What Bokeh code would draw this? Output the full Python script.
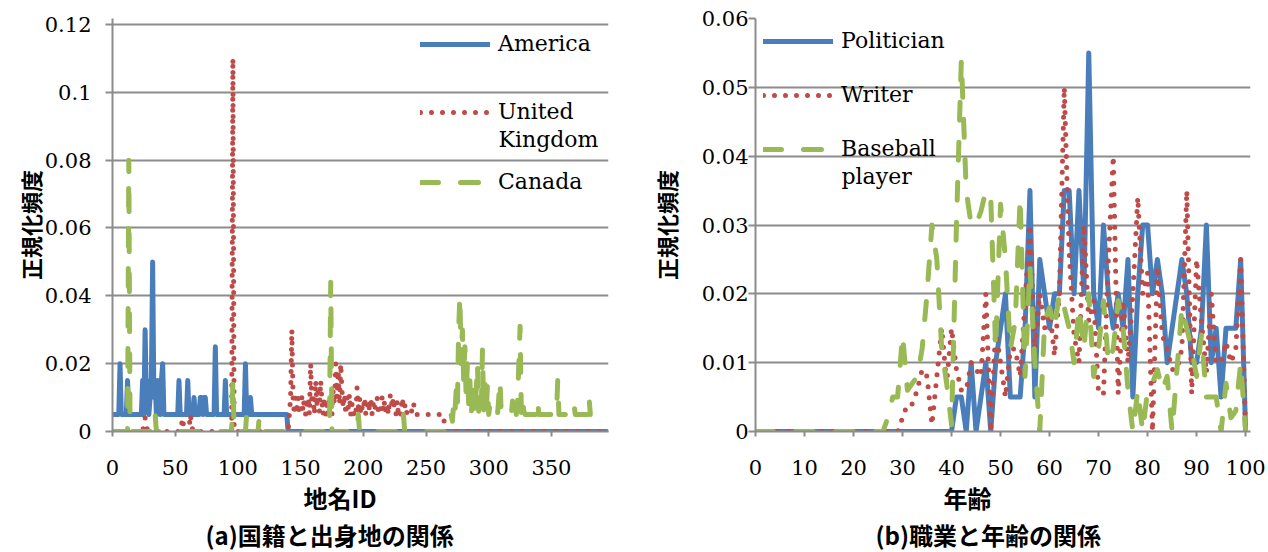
from bokeh.plotting import figure
from bokeh.models import (Range1d, FixedTicker, CustomJSTickFormatter, Legend,
                          LegendItem, Label, Title)
from bokeh.layouts import row
from bokeh.embed import file_html
from bokeh.resources import INLINE

# ---------------- data: panel (a) 国籍と出身地の関係 ----------------
america = [
    0.005, 0.005, 0.005, 0.005, 0.005, 0.005, 0.02, 0.005, 0.005, 0.005,
    0.005, 0.005, 0.015, 0.005, 0.005, 0.005, 0.005, 0.005, 0.005, 0.005,
    0.005, 0.005, 0.005, 0.005, 0.015, 0.005, 0.03, 0.01, 0.015, 0.005,
    0.01, 0.015, 0.05, 0.01, 0.015, 0.005, 0.015, 0.01, 0.005, 0.015,
    0.02, 0.005, 0.005, 0.005, 0.005, 0.005, 0.005, 0.005, 0.005, 0.005,
    0.005, 0.005, 0.005, 0.015, 0.005, 0.005, 0.005, 0.005, 0.005, 0.005,
    0.015, 0.005, 0.005, 0.005, 0.005, 0.01, 0.005, 0.005, 0.005, 0.005,
    0.01, 0.01, 0.005, 0.01, 0.01, 0.005, 0.005, 0.005, 0.005, 0.005,
    0.005, 0.005, 0.025, 0.005, 0.005, 0.005, 0.005, 0.005, 0.005, 0.005,
    0.015, 0.005, 0.005, 0.005, 0.005, 0.005, 0.005, 0.005, 0.005, 0.005,
    0.005, 0.005, 0.005, 0.005, 0.005, 0.005, 0.02, 0.005, 0.005, 0.005,
    0.01, 0.005, 0.005, 0.005, 0.005, 0.005, 0.005, 0.005, 0.005, 0.005,
    0.005, 0.005, 0.005, 0.005, 0.005, 0.005, 0.005, 0.005, 0.005, 0.005,
    0.005, 0.005, 0.005, 0.005, 0.005, 0.005, 0.005, 0.005, 0.005, 0.005,
    0, 0, 0, 0, 0, 0, 0, 0, 0, 0, 0, 0, 0, 0, 0,
    0, 0, 0, 0, 0, 0, 0, 0, 0, 0, 0, 0, 0, 0, 0,
    0, 0, 0, 0, 0, 0, 0, 0, 0, 0, 0, 0, 0, 0, 0,
    0, 0, 0, 0, 0, 0, 0, 0, 0, 0, 0, 0, 0, 0, 0,
    0, 0, 0, 0, 0, 0, 0, 0, 0, 0, 0, 0, 0, 0, 0,
    0, 0, 0, 0, 0, 0, 0, 0, 0, 0, 0, 0, 0, 0, 0,
    0, 0, 0, 0, 0, 0, 0, 0, 0, 0, 0, 0, 0, 0, 0,
    0, 0, 0, 0, 0, 0, 0, 0, 0, 0, 0, 0, 0, 0, 0,
    0, 0, 0, 0, 0, 0, 0, 0, 0, 0, 0, 0, 0, 0, 0,
    0, 0, 0, 0, 0, 0, 0, 0, 0, 0, 0, 0, 0, 0, 0,
    0, 0, 0, 0, 0, 0, 0, 0, 0, 0, 0, 0, 0, 0, 0,
    0, 0, 0, 0, 0, 0, 0, 0, 0, 0, 0, 0, 0, 0, 0,
    0, 0, 0, 0, 0, 0, 0, 0, 0, 0, 0, 0, 0, 0, 0,
    0, 0, 0, 0, 0, 0, 0, 0, 0, 0, 0, 0, 0, 0, 0,
    0, 0, 0, 0, 0, 0, 0, 0, 0, 0, 0, 0, 0, 0, 0,
    0, 0, 0, 0, 0, 0, 0, 0, 0, 0, 0, 0, 0, 0, 0,
    0, 0, 0, 0, 0, 0, 0, 0, 0, 0, 0, 0, 0, 0, 0,
]

united_kingdom = [
    0, 0, 0, 0, 0, 0, 0, 0, 0, 0,
    0, 0, 0, 0, 0, 0, 0, 0, 0, 0,
    0, 0, 0, 0, 0, 0.002, 0.004, 0.002, 0, 0,
    0, 0, 0, 0, 0, 0, 0, 0, 0, 0,
    0, 0, 0, 0, 0, 0, 0, 0, 0, 0,
    0, 0, 0, 0, 0, 0.002, 0.004, 0, 0, 0,
    0, 0, 0.005, 0.003, 0, 0, 0, 0, 0, 0,
    0, 0, 0, 0, 0, 0, 0, 0, 0, 0,
    0, 0, 0, 0, 0, 0, 0, 0, 0, 0,
    0, 0, 0, 0, 0, 0, 0.11, 0, 0, 0,
    0, 0, 0, 0, 0, 0, 0, 0, 0, 0,
    0, 0, 0, 0, 0, 0, 0, 0, 0, 0,
    0, 0, 0, 0, 0, 0, 0, 0, 0, 0,
    0, 0, 0, 0, 0, 0, 0, 0, 0, 0,
    0, 0.005, 0.01, 0.03, 0.01, 0.005, 0.01, 0.007, 0.01, 0.005,
    0.008, 0.01, 0.006, 0.01, 0.005, 0.008, 0.01, 0.005, 0.02, 0.008,
    0.01, 0.005, 0.015, 0.008, 0.012, 0.006, 0.015, 0.009, 0.005, 0.01,
    0.005, 0.008, 0.005, 0.01, 0.006, 0.005, 0.012, 0.008, 0.02, 0.01,
    0.018, 0.008, 0.02, 0.012, 0.007, 0.011, 0.005, 0.01, 0.007, 0.011,
    0.005, 0.008, 0.005, 0.006, 0.005, 0.013, 0.007, 0.01, 0.005, 0.007,
    0.006, 0.01, 0.005, 0.007, 0.009, 0.006, 0.01, 0.005, 0.008, 0.006,
    0.009, 0.01, 0.006, 0.005, 0.008, 0.01, 0.006, 0.009, 0.005, 0.008,
    0.005, 0.01, 0.011, 0.007, 0.01, 0.006, 0.005, 0.009, 0.005, 0.006,
    0.005, 0.01, 0.007, 0.008, 0.005, 0.006, 0.005, 0.005, 0.005, 0.007,
    0.0085, 0.006, 0.005, 0.005, 0.005, 0.005, 0.005, 0.005, 0.005, 0.005,
    0.005, 0.005, 0.005, 0.005, 0.005, 0.005, 0.005, 0.005, 0.005, 0.005,
    0.005, 0.005, 0.005, 0.005, 0.005, 0, 0, 0, 0, 0,
    0, 0, 0, 0, 0, 0, 0, 0, 0, 0, 0, 0, 0, 0, 0, 0, 0, 0, 0, 0, 0, 0, 0, 0, 0,
    0, 0, 0, 0, 0, 0, 0, 0, 0, 0, 0, 0, 0, 0, 0, 0, 0, 0, 0, 0, 0, 0, 0, 0, 0,
    0, 0, 0, 0, 0, 0, 0, 0, 0, 0, 0, 0, 0, 0, 0, 0, 0, 0, 0, 0, 0, 0, 0, 0, 0,
    0, 0, 0, 0, 0, 0, 0, 0, 0, 0, 0, 0, 0, 0, 0, 0, 0, 0, 0, 0, 0, 0, 0, 0, 0,
    0, 0, 0, 0, 0, 0, 0, 0, 0, 0, 0, 0, 0, 0, 0, 0, 0, 0, 0, 0, 0, 0, 0, 0, 0,
]

canada = [
    0, 0, 0, 0, 0, 0, 0, 0, 0, 0,
    0, 0, 0, 0.08, 0, 0, 0, 0, 0, 0,
    0, 0, 0, 0, 0, 0, 0, 0, 0, 0,
    0, 0, 0, 0, 0.005, 0, 0, 0, 0, 0,
    0, 0, 0, 0, 0, 0, 0, 0, 0, 0,
    0, 0, 0, 0, 0, 0, 0, 0, 0, 0,
    0, 0, 0, 0, 0, 0, 0, 0, 0, 0,
    0, 0, 0, 0, 0, 0, 0, 0, 0, 0,
    0, 0, 0, 0, 0, 0, 0, 0, 0, 0,
    0, 0, 0, 0, 0, 0, 0.015, 0, 0, 0,
    0, 0, 0, 0, 0, 0, 0, 0.005, 0, 0,
    0, 0, 0, 0, 0, 0, 0, 0.004, 0, 0,
    0, 0, 0, 0, 0, 0, 0, 0, 0, 0,
    0, 0, 0, 0, 0, 0, 0, 0, 0, 0,
    0, 0, 0, 0, 0, 0, 0, 0, 0, 0,
    0, 0, 0, 0, 0, 0, 0, 0, 0, 0,
    0, 0, 0, 0, 0, 0, 0, 0, 0, 0,
    0, 0, 0, 0, 0.044, 0, 0, 0, 0, 0,
    0, 0, 0, 0, 0, 0, 0, 0, 0, 0,
    0, 0, 0, 0, 0, 0, 0.005, 0, 0, 0,
    0, 0, 0, 0, 0, 0, 0, 0, 0, 0,
    0, 0, 0, 0, 0, 0, 0, 0, 0, 0,
    0, 0, 0, 0, 0, 0, 0, 0, 0, 0,
    0, 0, 0.005, 0, 0, 0, 0, 0, 0, 0,
    0, 0, 0, 0, 0, 0, 0, 0, 0, 0,
    0, 0, 0, 0, 0, 0, 0, 0, 0, 0,
    0, 0, 0, 0, 0, 0, 0, 0, 0, 0.002,
    0.005, 0.003, 0.008, 0.005, 0.012, 0.007, 0.03, 0.04, 0.02, 0.03,
    0.015, 0.025, 0.01, 0.02, 0.008, 0.015, 0.005, 0.01, 0.015, 0.005,
    0.012, 0.02, 0.006, 0.01, 0.005, 0.024, 0.006, 0.016, 0.005, 0.014,
    0.005, 0.008, 0.005, 0.005, 0.005, 0.005, 0.005, 0.005, 0.01, 0.015,
    0.005, 0.005, 0.005, 0.005, 0.005, 0.005, 0.005, 0.005, 0.005, 0.009,
    0.005, 0.008, 0.005, 0.009, 0.02, 0.031, 0.005, 0.009, 0.006, 0.005,
    0.005, 0.005, 0.005, 0.005, 0.005, 0.005, 0.005, 0.005, 0.005, 0.009,
    0.005, 0.005, 0.005, 0.005, 0.005, 0.005, 0.005, 0.005, 0.005, 0.005,
    0.005, 0.005, 0.005, 0.005, 0.005, 0.015, 0.005, 0.005, 0.005, 0.005,
    0.005, 0.005, 0.005, 0.005, 0.005, 0.005, 0.005, 0.005, 0.008, 0.005,
    0.005, 0.005, 0.005, 0.005, 0.005, 0.005, 0.005, 0.005, 0.005, 0.005,
    0.01, 0.005,
]

# ---------------- data: panel (b) 職業と年齢の関係 ----------------
politician = [
    0, 0, 0, 0, 0, 0, 0, 0, 0, 0,
    0, 0, 0, 0, 0, 0, 0, 0, 0, 0,
    0, 0, 0, 0, 0, 0, 0, 0, 0, 0,
    0, 0, 0, 0, 0, 0, 0, 0, 0, 0,
    0, 0.005, 0.005, 0, 0.01, 0, 0.005, 0.01, 0, 0.01,
    0.015, 0.02, 0.005, 0.005, 0.005, 0.015, 0.035, 0.005, 0.025, 0.02,
    0.015, 0.02, 0.02, 0.035, 0.035, 0.02, 0.035, 0.02, 0.055, 0.02,
    0.015, 0.03, 0.02, 0.015, 0.02, 0.015, 0.025, 0.005, 0.02, 0.03,
    0.03, 0.02, 0.025, 0.02, 0.01, 0.015, 0.02, 0.025, 0.02, 0.01,
    0.01, 0.015, 0.03, 0.01, 0.015, 0.005, 0.015, 0.015, 0.015, 0.025,
    0,
]

writer = [
    0, 0, 0, 0, 0, 0, 0, 0, 0, 0,
    0, 0, 0, 0, 0, 0, 0, 0, 0, 0,
    0, 0, 0, 0, 0, 0, 0, 0, 0, 0,
    0.002, 0.004, 0.004, 0.006, 0.009, 0.008, 0.001, 0.008, 0.015, 0.007,
    0.015, 0.009, 0.006, 0.006, 0.01, 0.009, 0.008, 0.02, 0, 0.015,
    0.01, 0.005, 0.012, 0.012, 0.008, 0.019, 0.03, 0.012, 0.02, 0.015,
    0.018, 0.011, 0.02, 0.05, 0.026, 0.014, 0.01, 0.03, 0.016, 0.019,
    0.0055, 0.0055, 0.025, 0.04, 0.0055, 0.019, 0.01, 0.02, 0.034, 0.02,
    0.023, 0, 0.024, 0.014, 0.012, 0.009, 0.009, 0.012, 0.035, 0.0055,
    0.025, 0.016, 0.0085, 0.02, 0.01, 0.01, 0.013, 0.01, 0.012, 0.025,
    0,
]

baseball_player = [
    0, 0, 0, 0, 0, 0, 0, 0, 0, 0,
    0, 0, 0, 0, 0, 0, 0, 0, 0, 0,
    0, 0, 0, 0, 0, 0, 0, 0.002, 0.005, 0.005,
    0.014, 0.006, 0.007, 0.008, 0.012, 0.02, 0.03, 0.025, 0.012, 0.007,
    0.001, 0.03, 0.054, 0.035, 0.03, 0.03, 0.032, 0.035, 0.034, 0.012,
    0.033, 0.025, 0.012, 0.016, 0.034, 0.008, 0.024, 0.01, 0, 0.016,
    0.018, 0.015, 0.02, 0.018, 0.015, 0.01, 0.018, 0.012, 0.02, 0.008,
    0.012, 0.019, 0.01, 0.012, 0.019, 0.015, 0.006, 0, 0.006, 0,
    0.006, 0.007, 0.009, 0.006, 0.008, 0, 0.009, 0.018, 0.015, 0.012,
    0.008, 0.014, 0.005, 0.005, 0.005, 0, 0.007, 0.002, 0.003, 0.01,
    0,
]

x_ticks_a = [0, 50, 100, 150, 200, 250, 300, 350]
y_ticks_a = [0, 0.02, 0.04, 0.06, 0.08, 0.1, 0.12]
x_ticks_b = [0, 10, 20, 30, 40, 50, 60, 70, 80, 90, 100]
y_ticks_b = [0, 0.01, 0.02, 0.03, 0.04, 0.05, 0.06]

# ---------------- style ----------------
BLUE = "#4A7EBB"
RED = "#BE4B48"
GREEN = "#98B954"
GRID = "#8C8C8C"
SERIF = "DejaVu Serif"
CJK = "Noto Sans CJK JP"
FIG_H = 552


def make_fig(width, x_end, y_end, xt, yt, border_left, border_right,
             ylab_standoff, ytitle_standoff):
    p = figure(width=width, height=FIG_H, output_backend="svg",
               toolbar_location=None,
               x_range=Range1d(0, x_end), y_range=Range1d(0, y_end),
               min_border_left=border_left, min_border_right=border_right,
               min_border_top=18, min_border_bottom=FIG_H - 432)
    p.outline_line_color = None
    p.background_fill_color = "white"
    p.xgrid.visible = False
    p.ygrid.ticker = FixedTicker(ticks=yt)
    p.ygrid.grid_line_color = GRID
    p.ygrid.grid_line_width = 2
    p.xaxis.ticker = FixedTicker(ticks=xt)
    p.yaxis.ticker = FixedTicker(ticks=yt)
    p.yaxis.formatter = CustomJSTickFormatter(
        code="return (Math.round(tick*1000)/1000).toString();")
    for ax in (p.xaxis, p.yaxis):
        ax.axis_line_color = GRID
        ax.axis_line_width = 2
        ax.major_tick_line_color = GRID
        ax.major_tick_line_width = 2
        ax.major_tick_in = 0
        ax.minor_tick_line_color = None
        ax.major_label_text_font = SERIF
        ax.major_label_text_font_size = "21px"
        ax.major_label_text_color = "black"
    p.xaxis.major_tick_out = 5
    p.yaxis.major_tick_out = 7
    p.xaxis.major_label_standoff = 23
    p.yaxis.major_label_standoff = ylab_standoff
    p.yaxis.axis_label = "正規化頻度"
    p.yaxis.axis_label_text_font = CJK
    p.yaxis.axis_label_text_font_size = "22px"
    p.yaxis.axis_label_text_font_style = "bold"
    p.yaxis.axis_label_text_color = "black"
    p.yaxis.axis_label_standoff = ytitle_standoff
    return p


def add_titles(p, xlabel, xoff, caption, coff):
    t1 = Title(text=xlabel, align="left", offset=xoff, text_font=CJK,
               text_font_size="24px", text_font_style="bold",
               text_color="black", standoff=0)
    t2 = Title(text=caption, align="left", offset=coff, text_font=CJK,
               text_font_size="24px", text_font_style="bold",
               text_color="black", standoff=1)
    p.add_layout(t1, "below")
    p.add_layout(t2, "below")


def text_label(p, text, x, y):
    p.add_layout(Label(x=x, y=y, x_units="screen", y_units="screen", text=text,
                       text_font=SERIF, text_font_size="22px",
                       text_align="left", text_baseline="middle",
                       text_color="black"))


def add_entry(p, renderer, text, x, y):
    lg = Legend(items=[LegendItem(label=text, renderers=[renderer])],
                location=(x, y), padding=0, margin=0, spacing=0,
                border_line_color=None, background_fill_alpha=0,
                glyph_width=70, glyph_height=20, label_standoff=8,
                label_height=20, label_text_font=SERIF,
                label_text_font_size="22px", label_text_color="black")
    p.add_layout(lg)


def add_line(p, ys, color, dash, lw):
    xs = list(range(len(ys)))
    return p.line(xs, ys, line_color=color, line_width=lw, line_dash=dash,
                  line_cap="round", line_join="round")


# ---------------- panel (a) ----------------
pa = make_fig(638, 395.5, 0.12 + 6 / 3400, x_ticks_a, y_ticks_a, 112, 30, 14, -4)
ra = add_line(pa, america, BLUE, "solid", 5)
rb = add_line(pa, united_kingdom, RED, "0 11", 5)
rc = add_line(pa, canada, GREEN, "18 22", 5)
add_entry(pa, ra, "America", 308, 375)
add_entry(pa, rb, "United", 308, 307)
text_label(pa, "Kingdom", 386, 292)
add_entry(pa, rc, "Canada", 308, 237)
add_titles(pa, "地名ID", 191, "(a)国籍と出身地の関係", 93)

# ---------------- panel (b) ----------------
pb = make_fig(630, 101, 0.06, x_ticks_b, y_ticks_b, 117, 18, 0, 17)
rp = add_line(pb, politician, BLUE, "solid", 5)
rw = add_line(pb, writer, RED, "0 11", 5)
rbp = add_line(pb, baseball_player, GREEN, "18 22", 5)
add_entry(pb, rp, "Politician", 8, 378)
add_entry(pb, rw, "Writer", 8, 324)
add_entry(pb, rbp, "Baseball", 8, 270)
text_label(pb, "player", 86, 255)
add_titles(pb, "年齢", 188, "(b)職業と年齢の関係", 120)

layout = row(pa, pb)
open("out.html", "w").write(file_html(layout, INLINE))
